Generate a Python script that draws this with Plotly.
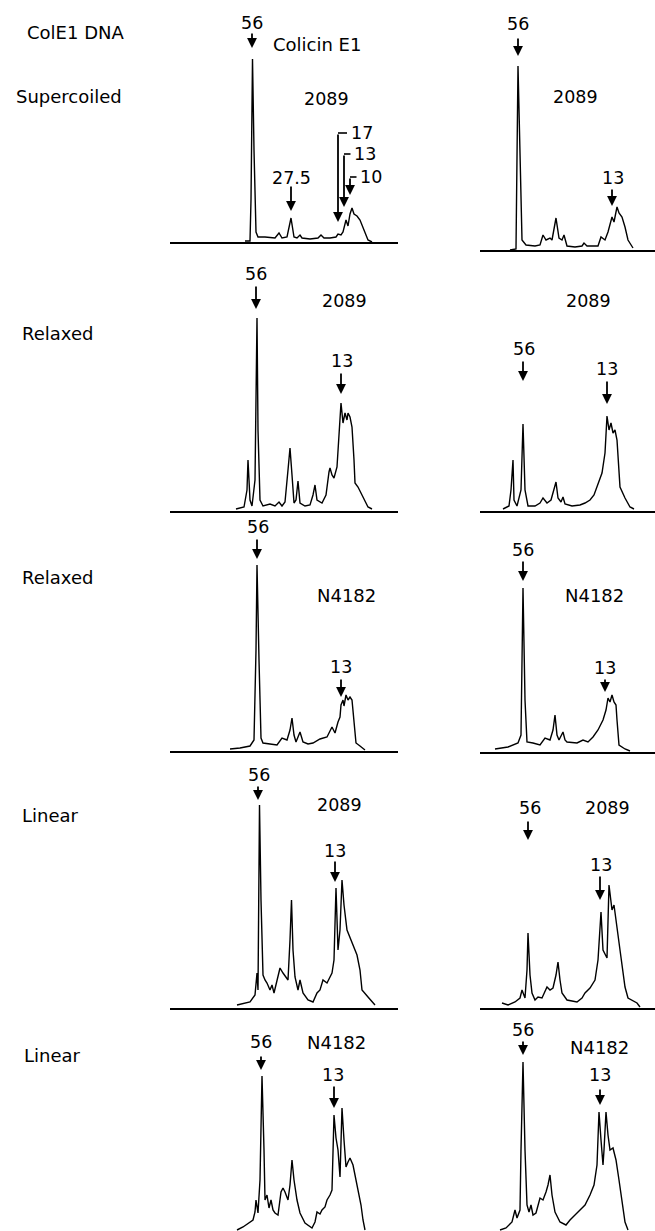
import plotly.graph_objects as go

FIG_W, FIG_H = 655, 1231

# ---- Densitometer scans: migration distance (arb. units) vs absorbance (arb. units) ----
# Supercoiled ColE1 DNA, colicin E1 + strain 2089 (left) / 2089 (right)
sup_l_x = [45, 50, 51, 52.5, 54, 56, 58, 65, 75, 79, 82, 87, 91, 94, 97, 100, 102, 110, 118, 121, 124, 130, 136, 138, 141,
           143, 146, 148, 150, 152, 154, 157, 160, 165, 168, 172]
sup_l_y = [1, 1, 42, 183, 92, 10, 5, 5, 4, 9, 4, 5, 24, 5, 4, 7, 4, 3, 4, 7, 4, 4, 5, 8, 7,
           10, 22, 16, 28, 34, 28, 26, 22, 9, 2, 0]
sup_r_x = [45, 51, 53, 55, 57, 61, 70, 75, 78, 81, 85, 87, 91, 94, 97, 99, 102, 110, 117, 119, 122, 133, 136, 140,
           143, 147, 149, 152, 154, 157, 160, 163, 168]
sup_r_y = [0, 1, 184, 80, 10, 5, 4, 5, 15, 10, 12, 10, 32, 12, 10, 15, 4, 3, 4, 7, 4, 4, 13, 10,
           18, 33, 28, 43, 37, 33, 23, 10, 2]

# Relaxed ColE1 DNA, strain 2089
rel_a_l_x = [36, 44, 47, 48, 50, 52, 55, 57, 58, 60, 63, 70, 75, 79, 82, 85, 88, 90, 92, 94, 96, 98, 100, 105, 110,
             113, 115, 117, 122, 126, 129, 130, 132, 134, 137, 139, 141, 143, 145, 147, 148, 150, 152, 154, 155,
             158, 163, 168, 172]
rel_a_l_y = [2, 4, 21, 51, 11, 5, 31, 193, 81, 11, 5, 7, 5, 9, 5, 9, 41, 63, 36, 8, 11, 30, 8, 5, 6,
             16, 26, 11, 8, 16, 39, 43, 36, 33, 44, 71, 108, 88, 98, 91, 98, 94, 84, 51, 28,
             24, 14, 4, 2]
rel_a_r_x = [38, 44, 46, 48, 49, 52, 56, 58, 60, 63, 70, 75, 78, 82, 86, 89, 91, 93, 96, 98, 100, 107, 115, 120, 125,
             129, 132, 137, 140, 142, 144, 146, 148, 150, 152, 153, 155, 160, 165, 169]
rel_a_r_y = [2, 5, 21, 51, 11, 5, 21, 87, 21, 5, 5, 8, 13, 8, 11, 21, 29, 13, 9, 14, 7, 5, 6, 8, 11,
             16, 24, 38, 58, 95, 81, 88, 78, 81, 71, 51, 24, 13, 4, 2]

# Relaxed ColE1 DNA, strain N4182
rel_b_l_x = [30, 40, 50, 54, 56, 57, 59, 61, 63, 70, 77, 82, 87, 90, 92, 94, 96, 100, 103, 108, 113, 120, 127, 132,
             135, 138, 140, 141, 143, 144, 146, 148, 150, 152, 154, 156, 160, 165]
rel_b_l_y = [2, 3, 5, 11, 101, 186, 91, 13, 8, 7, 6, 13, 11, 21, 33, 16, 9, 19, 9, 7, 8, 12, 14, 24,
             18, 29, 34, 46, 51, 45, 56, 51, 54, 51, 26, 8, 5, 1]
rel_b_r_x = [30, 43, 53, 56, 58, 60, 62, 68, 75, 80, 85, 88, 90, 92, 94, 98, 100, 102, 112, 118, 123, 128, 133, 138,
             141, 143, 145, 147, 149, 151, 152, 154, 160, 165]
rel_b_r_y = [3, 5, 9, 17, 164, 52, 10, 9, 7, 14, 12, 22, 37, 17, 12, 20, 12, 10, 9, 12, 10, 15, 22, 32,
             42, 54, 50, 57, 50, 47, 32, 7, 3, 1]

# Linear ColE1 DNA, strain 2089
lin_a_l_x = [37, 45, 50, 55, 57, 58, 59.5, 61, 63, 65, 67, 70, 72, 74, 78, 80, 83, 88, 90, 91.5, 93, 95, 98, 100,
             103, 108, 113, 117, 120, 123, 127, 132, 134, 136, 138, 140, 142, 144, 147, 150, 153, 157, 160, 162,
             168, 175]
lin_a_l_y = [3, 5, 6, 13, 35, 18, 203, 108, 33, 28, 25, 18, 23, 15, 33, 40, 35, 28, 68, 108, 58, 31, 18, 28,
             15, 8, 6, 15, 18, 28, 25, 35, 48, 120, 58, 78, 128, 103, 78, 71, 63, 53, 38, 18,
             11, 3]
lin_a_r_x = [37, 43, 50, 55, 57, 60, 62, 63, 65, 67, 70, 73, 77, 82, 85, 88, 91, 93, 95, 97, 102, 112, 117, 120,
             125, 130, 133, 136, 138, 142, 144, 147, 149, 152, 155, 160, 163, 172, 175]
lin_a_r_y = [5, 3, 6, 10, 18, 10, 38, 75, 33, 15, 8, 11, 10, 21, 18, 20, 33, 46, 28, 15, 8, 6, 10, 15,
             20, 28, 48, 96, 58, 50, 123, 98, 103, 78, 58, 21, 10, 5, 1]

# Linear ColE1 DNA, strain N4182
lin_b_l_x = [37, 43, 53, 55, 56, 58, 60, 62, 64, 65, 67, 69, 71, 73, 75, 78, 81, 83, 85, 88, 90, 92, 94, 97, 100,
             105, 112, 115, 117, 120, 122, 125, 127, 130, 132, 133, 134, 136, 137, 138, 140, 141, 142, 144, 146,
             148, 150, 153, 156, 158, 161, 163, 165]
lin_b_l_y = [1, 4, 11, 19, 31, 18, 51, 155, 81, 31, 36, 23, 31, 21, 18, 16, 39, 43, 39, 31, 46, 71, 51, 31, 18,
             8, 3, 9, 19, 17, 21, 24, 31, 36, 41, 71, 116, 93, 88, 81, 54, 91, 123, 91, 64,
             69, 73, 66, 51, 44, 26, 11, 1]
lin_b_r_x = [35, 41, 47, 50, 52, 55, 56, 58, 60, 62, 64, 66, 68, 71, 75, 78, 81, 83, 85, 87, 90, 95, 101, 105, 110,
             115, 120, 125, 129, 132, 134, 136, 138, 139, 141, 143, 145, 148, 151, 154, 157, 160, 163]
lin_b_r_y = [1, 3, 9, 21, 13, 21, 81, 169, 81, 26, 19, 26, 16, 18, 33, 31, 39, 46, 56, 36, 19, 9, 6, 11, 16,
             21, 26, 36, 46, 66, 119, 91, 66, 81, 119, 96, 81, 83, 71, 51, 31, 9, 1]

row_labels = ["Supercoiled", "Relaxed", "Relaxed", "Linear", "Linear"]
header_label = "ColE1 DNA"

FONT_NUM = dict(family="DejaVu Sans, Arial, sans-serif", size=17.5, color="black")
FONT_TXT = dict(family="DejaVu Sans, Arial, sans-serif", size=18, color="black")

# panel layout: (x data, y data, column, baseline pixel row, draw baseline)
panels = [
    (sup_l_x, sup_l_y, 0, 242, True),
    (sup_r_x, sup_r_y, 1, 250, True),
    (rel_a_l_x, rel_a_l_y, 0, 511, True),
    (rel_a_r_x, rel_a_r_y, 1, 511, True),
    (rel_b_l_x, rel_b_l_y, 0, 751, True),
    (rel_b_r_x, rel_b_r_y, 1, 752, True),
    (lin_a_l_x, lin_a_l_y, 0, 1008, True),
    (lin_a_r_x, lin_a_r_y, 1, 1008, True),
    (lin_b_l_x, lin_b_l_y, 0, 1231, False),
    (lin_b_r_x, lin_b_r_y, 1, 1231, False),
]
COL_DOMAIN = [(170, 398), (480, 655)]
COL_ORIGIN = [200, 465]
SPAN = 240

fig = go.Figure()
layout = {}
for i, (xs, ys, col, base, showbase) in enumerate(panels, start=1):
    sx = "" if i == 1 else str(i)
    fig.add_trace(go.Scatter(x=xs, y=ys, mode="lines", line=dict(color="black", width=1.4),
                             xaxis="x" + sx, yaxis="y" + sx, hoverinfo="skip", showlegend=False))
    d0, d1 = COL_DOMAIN[col]
    o = COL_ORIGIN[col]
    layout["xaxis" + sx] = dict(domain=[d0 / FIG_W, d1 / FIG_W], range=[d0 - o, d1 - o], anchor="y" + sx,
                                showline=showbase, linecolor="black", linewidth=2, showgrid=False,
                                zeroline=False, showticklabels=False, ticks="", fixedrange=True)
    layout["yaxis" + sx] = dict(domain=[1 - base / FIG_H, 1 - (base - SPAN) / FIG_H], range=[0, SPAN],
                                anchor="x" + sx, visible=False, fixedrange=True)

ann = []
shapes = []


def refs(i):
    s = "" if i == 1 else str(i)
    return "x" + s, "y" + s


def label(i, x, y, text, xanchor="center", font=FONT_NUM):
    xr, yr = refs(i)
    ann.append(dict(xref=xr, yref=yr, x=x, y=y, text=text, showarrow=False, xanchor=xanchor,
                    yanchor="middle", font=font))


def arrow(i, x, y_from, y_to):
    xr, yr = refs(i)
    ann.append(dict(xref=xr, yref=yr, axref=xr, ayref=yr, x=x, y=y_to, ax=x, ay=y_from, text="",
                    showarrow=True, arrowhead=2, arrowsize=1.1, arrowwidth=1.8, arrowcolor="black"))


def bracket(i, x, y, x_end, y_to, text):
    xr, yr = refs(i)
    shapes.append(dict(type="line", xref=xr, yref=yr, x0=x, y0=y, x1=x_end, y1=y,
                       line=dict(color="black", width=1.6)))
    arrow(i, x, y, y_to)
    label(i, x_end + 1.5, y, text, xanchor="left")


# Row 1
label(1, 52, 219, "56"); arrow(1, 52, 210, 194)
label(1, 71, 197, "Colicin E1", xanchor="left", font=FONT_TXT)
label(1, 126, 143, "2089")
label(1, 91, 64, "27.5"); arrow(1, 91, 57, 31)
bracket(1, 138, 109, 147, 20, "17")
bracket(1, 144, 88, 150.5, 35, "13")
bracket(1, 150, 65, 156.5, 47, "10")
label(2, 53, 226, "56"); arrow(2, 53, 213, 194)
label(2, 110, 153, "2089")
label(2, 148, 72, "13"); arrow(2, 147, 62, 44)
# Row 2
label(3, 56, 237, "56"); arrow(3, 56, 226, 202)
label(3, 144, 210, "2089")
label(3, 142, 150, "13"); arrow(3, 141, 139, 117)
label(4, 123, 210, "2089")
label(4, 59, 162, "56"); arrow(4, 58, 151, 130)
label(4, 142, 142, "13"); arrow(4, 142, 131, 107)
# Row 3
label(5, 58, 224, "56"); arrow(5, 57, 213, 192)
label(5, 146, 156, "N4182", font=FONT_TXT)
label(5, 141, 84, "13"); arrow(5, 141, 73, 54)
label(6, 58, 202, "56"); arrow(6, 58, 192, 171)
label(6, 129, 157, "N4182", font=FONT_TXT)
label(6, 140, 84, "13"); arrow(6, 140, 74, 60)
# Row 4
label(7, 59, 233, "56"); arrow(7, 58, 223, 208)
label(7, 139, 203, "2089")
label(7, 135, 157, "13"); arrow(7, 135, 148, 126)
label(8, 65, 200, "56"); arrow(8, 63, 188, 168)
label(8, 142, 200, "2089")
label(8, 136, 143, "13"); arrow(8, 135, 133, 108)
# Row 5
label(9, 61, 189, "56"); arrow(9, 61, 176, 161)
label(9, 136, 189, "N4182", font=FONT_TXT)
label(9, 133, 156, "13"); arrow(9, 134, 146, 123)
label(10, 58, 201, "56"); arrow(10, 58, 191, 176)
label(10, 134, 184, "N4182", font=FONT_TXT)
label(10, 135, 156, "13"); arrow(10, 135, 143, 126)

# Left-hand row titles (paper coordinates)
ann.append(dict(xref="paper", yref="paper", x=25 / FIG_W, y=1 - 32 / FIG_H, text=header_label,
                showarrow=False, xanchor="left", yanchor="middle", font=FONT_TXT))
row_label_pos = [(14, 96), (20, 333), (20, 577), (20, 815), (22, 1055)]
for txt, (px, py) in zip(row_labels, row_label_pos):
    ann.append(dict(xref="paper", yref="paper", x=px / FIG_W, y=1 - py / FIG_H, text=txt,
                    showarrow=False, xanchor="left", yanchor="middle", font=FONT_TXT))

fig.update_layout(**layout)
fig.update_layout(width=FIG_W, height=FIG_H, margin=dict(l=0, r=0, t=0, b=0),
                  paper_bgcolor="white", plot_bgcolor="rgba(0,0,0,0)",
                  annotations=ann, shapes=shapes, showlegend=False)
fig.write_html("out.html", config=dict(displayModeBar=False),
               post_script="document.body.style.margin='0';document.body.style.padding='0';"
                           "document.body.style.overflow='hidden';")
